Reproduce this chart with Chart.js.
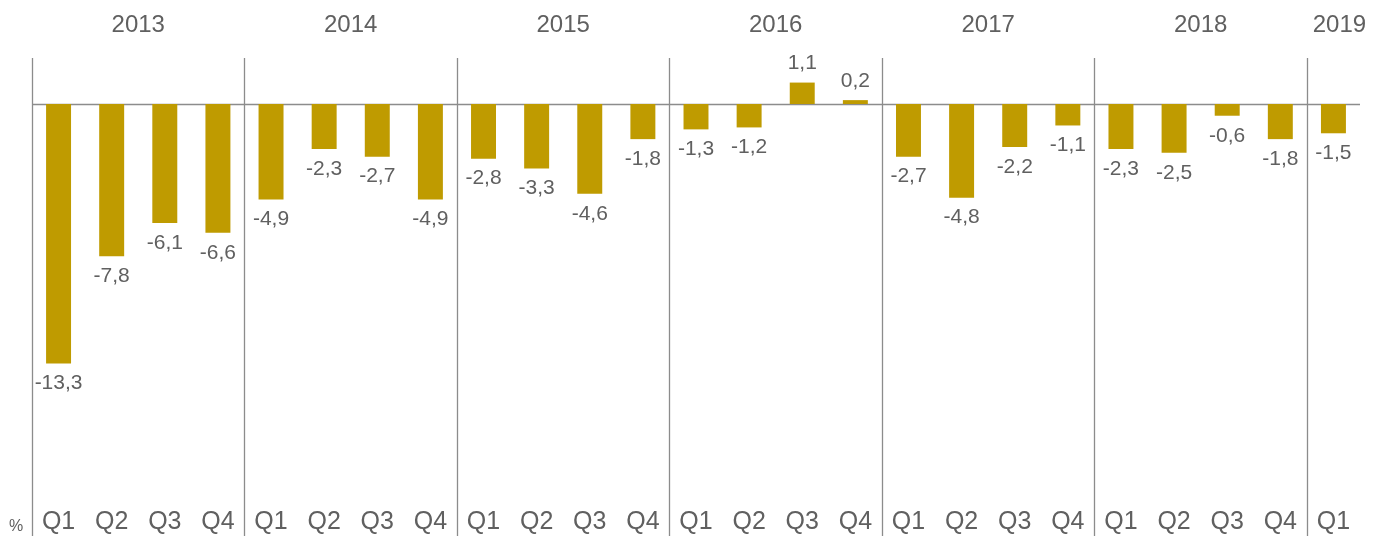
<!DOCTYPE html>
<html>
<head>
<meta charset="utf-8">
<script src="https://cdn.jsdelivr.net/npm/chart.js@4.4.1/dist/chart.umd.min.js"></script>
<style>
html,body{margin:0;padding:0;background:#fff;}
#wrap{width:1384px;height:536px;position:relative;}
</style>
</head>
<body>
<div id="wrap"><canvas id="c" width="1384" height="536"></canvas></div>
<script>
const years = ["2013","2014","2015","2016","2017","2018","2019"];
const quartersPerYear = [4,4,4,4,4,4,1];
const quarterLabels = ["Q1","Q2","Q3","Q4","Q1","Q2","Q3","Q4","Q1","Q2","Q3","Q4","Q1","Q2","Q3","Q4","Q1","Q2","Q3","Q4","Q1","Q2","Q3","Q4","Q1"];
const values = [-13.3,-7.8,-6.1,-6.6, -4.9,-2.3,-2.7,-4.9, -2.8,-3.3,-4.6,-1.8, -1.3,-1.2,1.1,0.2, -2.7,-4.8,-2.2,-1.1, -2.3,-2.5,-0.6,-1.8, -1.5];
const unitLabel = "%";

const FONT = "'Liberation Sans', Arial, sans-serif";
const TEXT = "#606060";
const LINE = "#8c8c8c";
const BAR = "#bf9b00";

const decorations = {
  id: 'decorations',
  beforeDatasetsDraw(chart) {
    const ctx = chart.ctx, x = chart.scales.x, y = chart.scales.y, a = chart.chartArea;
    const cw = (a.right - a.left) / quarterLabels.length;
    ctx.save();
    ctx.strokeStyle = LINE; ctx.lineWidth = 1.3;
    let idx = 0;
    const starts = [];
    for (let i = 0; i < years.length; i++) { starts.push(idx); idx += quartersPerYear[i]; }
    starts.forEach(s => {
      const px = Math.round(x.getPixelForValue(s) - cw / 2) + 0.5;
      ctx.beginPath(); ctx.moveTo(px, a.top); ctx.lineTo(px, 536); ctx.stroke();
    });
    const zy = Math.round(y.getPixelForValue(0)) + 0.5;
    ctx.beginPath(); ctx.moveTo(a.left, zy); ctx.lineTo(a.right, zy); ctx.stroke();
    ctx.fillStyle = TEXT; ctx.font = "24px " + FONT; ctx.textAlign = "center"; ctx.textBaseline = "middle";
    starts.forEach((s, i) => {
      const l = x.getPixelForValue(s) - cw / 2;
      const r = x.getPixelForValue(s + quartersPerYear[i] - 1) + cw / 2;
      let cx = (l + r) / 2;
      if (quartersPerYear[i] === 1) cx += 6;
      ctx.fillText(years[i], cx, 25);
    });
    ctx.font = "25px " + FONT;
    quarterLabels.forEach((q, i) => {
      ctx.fillText(q, x.getPixelForValue(i), 522);
    });
    ctx.font = "16px " + FONT; ctx.textAlign = "left";
    ctx.fillText(unitLabel, 9, 527);
    ctx.restore();
  },
  afterDatasetsDraw(chart) {
    const ctx = chart.ctx, meta = chart.getDatasetMeta(0);
    ctx.save();
    ctx.fillStyle = TEXT; ctx.font = "21px " + FONT; ctx.textAlign = "center"; ctx.textBaseline = "middle";
    meta.data.forEach((bar, i) => {
      const v = values[i];
      const txt = v.toFixed(1).replace('.', ',');
      const yy = v < 0 ? bar.y + 20 : bar.y - 19;
      ctx.fillText(txt, bar.x, yy);
    });
    ctx.restore();
  }
};

new Chart(document.getElementById('c'), {
  type: 'bar',
  data: {
    labels: quarterLabels,
    datasets: [{
      data: values,
      backgroundColor: BAR,
      borderWidth: 0,
      categoryPercentage: 1,
      barPercentage: 0.47
    }]
  },
  options: {
    responsive: false,
    animation: false,
    devicePixelRatio: 1,
    layout: { padding: { left: 32, right: 24, top: 58, bottom: 0 } },
    plugins: { legend: { display: false }, tooltip: { enabled: false }, title: { display: false } },
    scales: {
      x: { display: false, offset: true, grid: { display: false } },
      y: { display: false, min: -22.15, max: 2.36 }
    }
  },
  plugins: [decorations]
});
</script>
</body>
</html>
